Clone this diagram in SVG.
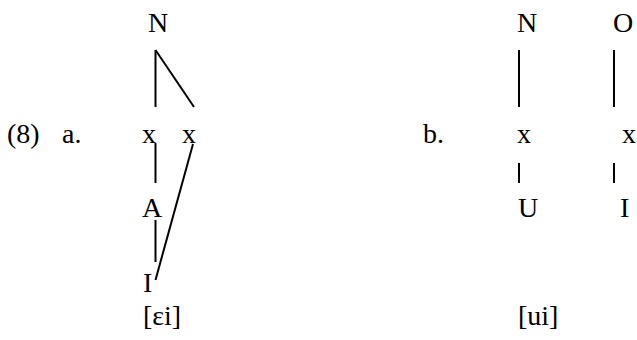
<svg xmlns="http://www.w3.org/2000/svg" width="637" height="340" viewBox="0 0 637 340">
<style>
text{font-family:"Liberation Serif","DejaVu Serif",serif;font-size:28px;fill:#000}
line{stroke:#000;stroke-width:2;fill:none}
</style>
<rect width="637" height="340" fill="#fff"/>
<g id="labels">
<text x="7" y="143">(8)</text>
<text x="62" y="143">a.</text>
<text x="423" y="143">b.</text>
</g>
<g id="a-N"><text x="148" y="32">N</text></g>
<g id="a-x1"><text x="142" y="143">x</text></g>
<g id="a-x2"><text x="182" y="143">x</text></g>
<g id="a-A"><text x="142" y="217">A</text></g>
<g id="a-I"><text x="143" y="292">I</text></g>
<g id="a-gloss"><text x="143" y="325">[ɛi]</text></g>
<g id="b-N"><text x="517" y="32">N</text></g>
<g id="b-O"><text x="613" y="32">O</text></g>
<g id="b-x1"><text x="517" y="143">x</text></g>
<g id="b-x2"><text x="622" y="143">x</text></g>
<g id="b-U"><text x="518" y="217">U</text></g>
<g id="b-I"><text x="620" y="217">I</text></g>
<g id="b-gloss"><text x="518" y="325">[ui]</text></g>
<g id="connectors">
<line x1="155.5" y1="50" x2="155.5" y2="107"/>
<line x1="155.5" y1="50" x2="194" y2="107"/>
<line x1="155.5" y1="143" x2="155.5" y2="183"/>
<line x1="155.5" y1="220" x2="155.5" y2="262"/>
<line x1="193" y1="144" x2="155.5" y2="280"/>
<line x1="519" y1="50" x2="519" y2="107"/>
<line x1="614" y1="50" x2="614" y2="107"/>
<line x1="519" y1="163" x2="519" y2="183"/>
<line x1="614" y1="163" x2="614" y2="183"/>
</g>
</svg>
